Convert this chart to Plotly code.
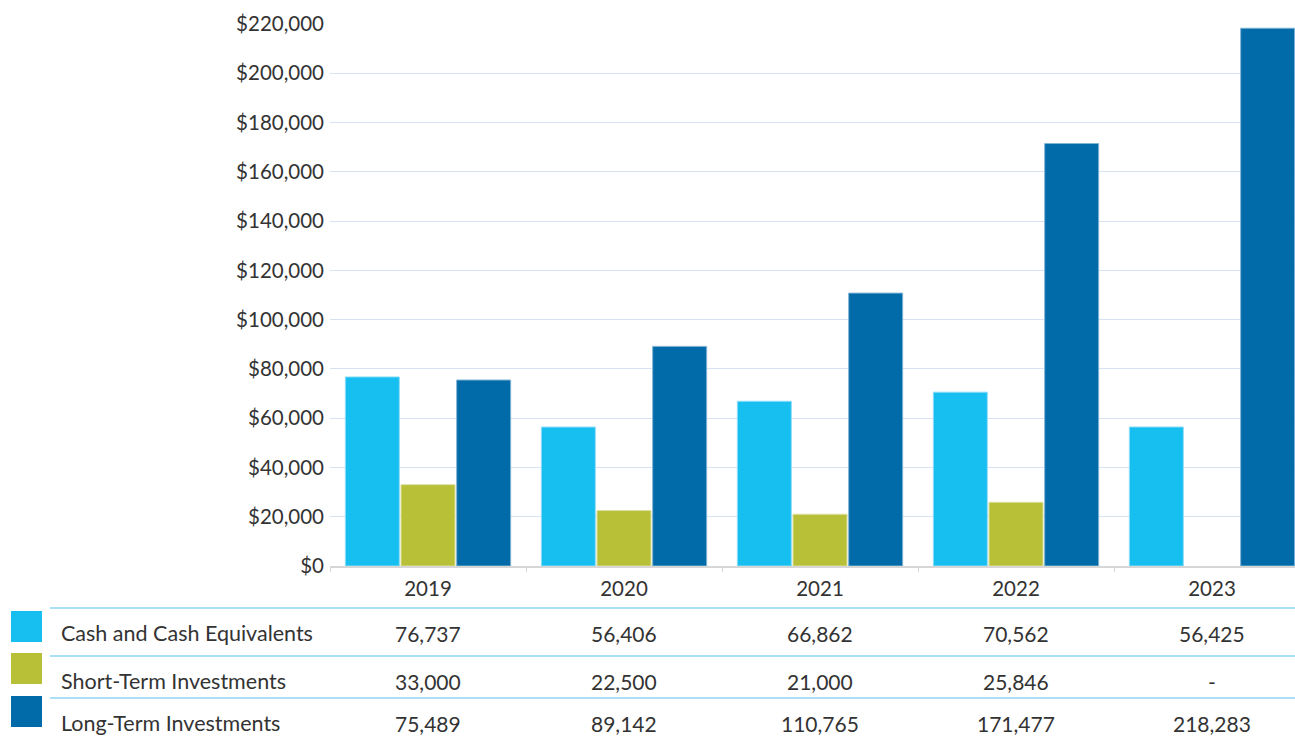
import plotly.graph_objects as go

years = ["2019", "2020", "2021", "2022", "2023"]
series_names = ["Cash and Cash Equivalents", "Short-Term Investments", "Long-Term Investments"]
cash = [76737, 56406, 66862, 70562, 56425]
short_term = [33000, 22500, 21000, 25846, None]
long_term = [75489, 89142, 110765, 171477, 218283]
colors = ["#17BEF0", "#B8C037", "#006BA8"]
edge_colors = ["#8EDDF8", "#DADF9E", "#7FB3D3"]
y_ticks = [0, 20000, 40000, 60000, 80000, 100000, 120000, 140000, 160000, 180000, 200000, 220000]

W, H = 1295, 736
L, R, T, B = 330, 0, 24, 170
pw, ph = W - L - R, H - T - B

def px(xp):
    return (xp - L) / pw

def py(yp):
    return (H - B - yp) / ph

fig = go.Figure()
all_series = [cash, short_term, long_term]
for name, vals, c, ec in zip(series_names, all_series, colors, edge_colors):
    fig.add_trace(go.Bar(x=years, y=vals, name=name, marker=dict(color=c, line=dict(color=ec, width=1)),
                         showlegend=False, hoverinfo="skip"))

font_family = "Lato, 'Open Sans', sans-serif"
txt_color = "#333333"

shapes = []
annotations = []
line_y = [608, 656, 698]
for ly in line_y:
    shapes.append(dict(type="line", xref="paper", yref="paper", x0=px(50), x1=1, y0=py(ly), y1=py(ly),
                       line=dict(color="#8FD4F2", width=1.5)))
sq = [(611, 642), (653, 684), (696, 727)]
row_y = [633, 681, 723]
for (y0, y1), c, name, vals, ry in zip(sq, colors, series_names, all_series, row_y):
    shapes.append(dict(type="rect", xref="paper", yref="paper", x0=px(11), x1=px(42), y0=py(y1), y1=py(y0),
                       fillcolor=c, line=dict(width=0)))
    annotations.append(dict(text=name, xref="paper", yref="paper", x=px(59), y=py(ry), xanchor="left",
                            yanchor="middle", showarrow=False, font=dict(size=21.5, color=txt_color, family=font_family)))
    for i, v in enumerate(vals):
        label = "-" if v is None else f"{v:,}"
        annotations.append(dict(text=label, xref="x", yref="paper", x=i, y=py(ry), xanchor="center",
                                yanchor="middle", showarrow=False, font=dict(size=21, color=txt_color, family=font_family)))

fig.update_layout(
    width=W, height=H,
    margin=dict(l=L, r=R, t=T, b=B, pad=0),
    paper_bgcolor="white", plot_bgcolor="white",
    barmode="group", bargap=0.148, bargroupgap=0.03,
    font=dict(family=font_family, size=20, color=txt_color),
    shapes=shapes, annotations=annotations,
    xaxis=dict(type="category", range=[-0.5, 4.5 - 15 / 196], showgrid=False, showline=True,
               linecolor="#D6D6D6", linewidth=2, ticks="outside", tickson="boundaries", ticklen=4,
               tickcolor="#D6D6D6", tickfont=dict(size=20.5, color=txt_color), ticklabelstandoff=3,
               fixedrange=True),
    yaxis=dict(range=[0, 220000], tickvals=y_ticks, ticktext=[f"${v:,}" for v in y_ticks],
               showgrid=True, gridcolor="#D6E2F3", gridwidth=1, zeroline=False, ticks="",
               tickfont=dict(size=20.5, color=txt_color), ticklabelstandoff=5, fixedrange=True),
)

fig.write_html("out.html", config={"displayModeBar": False},
               post_script="document.body.style.margin='0';document.body.style.overflow='hidden';")
